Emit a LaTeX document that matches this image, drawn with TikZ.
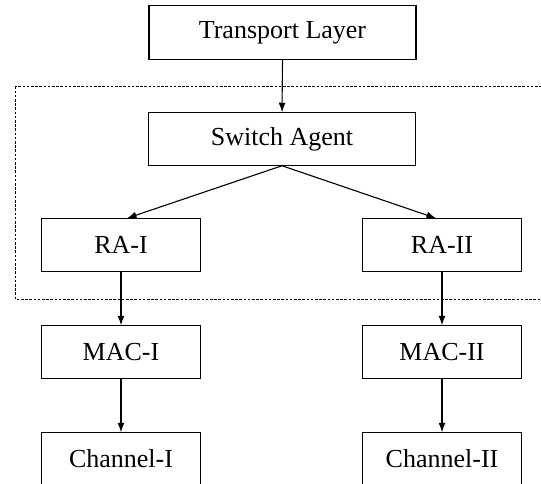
\documentclass[tikz,border=0pt]{standalone}
\usepackage{fontspec}
\setmainfont{Liberation Serif}
\usetikzlibrary{arrows.meta}
\tikzset{
  block/.style={draw, line width=1.3pt, minimum height=53.5pt, outer sep=0pt,
    font=\fontsize{26}{30}\selectfont},
  wide/.style={block, minimum width=267pt},
  narrow/.style={block, minimum width=159pt},
  flow/.style={line width=1.1pt, -{Latex[length=9.5pt,width=7pt]}},
  group/.style={line width=1pt, dash pattern=on 2.6pt off 1.6pt}
}
\begin{document}
\begin{tikzpicture}[x=1pt,y=-1pt]
  \useasboundingbox (0,0) rectangle (541,484);
  \clip (0,0) rectangle (541,484);
  % protocol stack blocks
  \node[wide]   (tl)   at (282.5,32.5) {Transport Layer};
  \node[wide]   (sa)   at (282,139)    {Switch Agent};
  \node[narrow] (ra1)  at (121,245)    {RA-I};
  \node[narrow] (ra2)  at (442,245)    {RA-II};
  \node[narrow] (mac1) at (121,352)    {MAC-I};
  \node[narrow] (mac2) at (442,352)    {MAC-II};
  \node[narrow] (ch1)  at (121,459)    {Channel-I};
  \node[narrow] (ch2)  at (442,459)    {Channel-II};
  % dotted boundary around the switching layer
  \coordinate (gtl) at (15.5,86.5);
  \coordinate (gbr) at (620,299.5);
  \draw[group] (gtl) rectangle (gbr);
  % data flow
  \draw[flow] (tl.south) -- (sa.north);
  \draw[flow] (sa.south) -- ([xshift=6pt]ra1.north);
  \draw[flow] (sa.south) -- ([xshift=-6pt]ra2.north);
  \draw[flow] (ra1.south) -- (mac1.north);
  \draw[flow] (ra2.south) -- (mac2.north);
  \draw[flow] (mac1.south) -- (ch1.north);
  \draw[flow] (mac2.south) -- (ch2.north);
\end{tikzpicture}
\end{document}
